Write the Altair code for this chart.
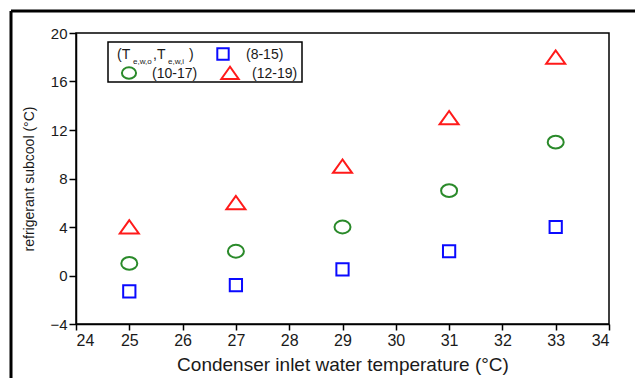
import altair as alt
import pandas as pd

x_vals = [25, 27, 29, 31, 33]
sq_vals = [-1.3, -0.8, 0.5, 2.0, 4.0]      # (8-15)
ci_vals = [1.0, 2.0, 4.0, 7.0, 11.0]       # (10-17)
tr_vals = [4.0, 6.0, 9.0, 13.0, 18.0]      # (12-19)
x_ticks = list(range(24, 35))
y_ticks = [-4, 0, 4, 8, 12, 16, 20]

FONT = "Liberation Sans"
TXT = "#1a1a1a"
BLUE = "#0a0aff"
GREEN = "#2a8a2a"
RED = "#ff1a1a"

W, H = 533, 291

df = pd.DataFrame({"x": x_vals, "sq": sq_vals, "ci": ci_vals, "tr": tr_vals})

xs = alt.Scale(domain=[24, 34], nice=False, zero=False)
ys = alt.Scale(domain=[-4, 20], nice=False, zero=False)

xax = alt.Axis(values=x_ticks, title="Condenser inlet water temperature (°C)", grid=False,
               tickSize=6, tickColor="black", domainColor="black", labelFontSize=16,
               labelFont=FONT, labelColor=TXT, titleFont=FONT, titleFontSize=19,
               titleFontWeight="normal", titleColor=TXT, labelPadding=2, titlePadding=7,
               domainWidth=1.5, tickWidth=1.5)
yax = alt.Axis(values=y_ticks, title="refrigerant subcool (°C)", grid=False,
               tickSize=7, tickColor="black", domainColor="black", labelFontSize=15,
               labelFont=FONT, labelColor=TXT, titleFont=FONT, titleFontSize=14,
               titleFontWeight="normal", titleColor=TXT, labelPadding=2, titlePadding=13,
               domainWidth=1.5, tickWidth=1.5)

base = alt.Chart(df)

ELL = "M-1,0A1,0.8 0 1,0 1,0A1,0.8 0 1,0 -1,0Z"
TRI = "M0,-0.72L-1,0.68L1,0.68Z"

sq = base.mark_point(shape="square", size=150, filled=False, strokeWidth=2, color=BLUE, opacity=1).encode(
    x=alt.X("x:Q", scale=xs, axis=xax), y=alt.Y("sq:Q", scale=ys, axis=yax))
ci = base.mark_point(shape=ELL, size=256, filled=False, strokeWidth=2, color=GREEN, opacity=1).encode(
    x=alt.X("x:Q", scale=xs), y=alt.Y("ci:Q", scale=ys))
tr = base.mark_point(shape=TRI, size=361, filled=False, strokeWidth=2, color=RED, opacity=1).encode(
    x=alt.X("x:Q", scale=xs), y=alt.Y("tr:Q", scale=ys))

one = alt.Chart(pd.DataFrame({"a": [0]}))

# outer frame (decoration)
frame_v = one.mark_rule(color="black", strokeWidth=3).encode(
    x=alt.value(-65), y=alt.value(-22), y2=alt.value(400))
frame_h = one.mark_rule(color="black", strokeWidth=3).encode(
    x=alt.value(-65), x2=alt.value(700), y=alt.value(-22))

# legend (decoration)
OX, OY = 76, 33
leg_box = one.mark_rect(fill="white", stroke="black", strokeWidth=1.5).encode(
    x=alt.value(108 - OX), x2=alt.value(302 - OX), y=alt.value(42 - OY), y2=alt.value(82 - OY))

def txt(s, x, y, size=14):
    return one.mark_text(text=s, align="left", baseline="alphabetic", font=FONT,
                         fontSize=size, color=TXT).encode(x=alt.value(x - OX), y=alt.value(y - OY))

leg = [
    leg_box,
    txt("(T", 117, 59),
    txt("e,w,o", 133, 64, 8),
    txt(",T", 153, 59),
    txt("e,w,i", 168, 64, 8),
    txt(")", 189, 59),
    txt("(8-15)", 246, 59),
    txt("(10-17)", 152, 78),
    txt("(12-19)", 252, 78),
    one.mark_point(shape="square", size=130, filled=False, strokeWidth=2, color=BLUE, opacity=1).encode(
        x=alt.value(223 - OX), y=alt.value(54 - OY)),
    one.mark_point(shape=ELL, size=200, filled=False, strokeWidth=2, color=GREEN, opacity=1).encode(
        x=alt.value(129 - OX), y=alt.value(73 - OY)),
    one.mark_point(shape=TRI, size=300, filled=False, strokeWidth=2, color=RED, opacity=1).encode(
        x=alt.value(230 - OX), y=alt.value(73 - OY)),
]

chart = alt.layer(sq, ci, tr, frame_v, frame_h, *leg).properties(
    width=W, height=H,
    autosize=alt.AutoSizeParams(type="none"),
    padding={"left": 68, "top": 25, "right": 26, "bottom": 54},
    background="white",
).configure_view(stroke="black", strokeWidth=1.5)

chart.save("out.html", embed_options={"renderer": "svg", "actions": False})
